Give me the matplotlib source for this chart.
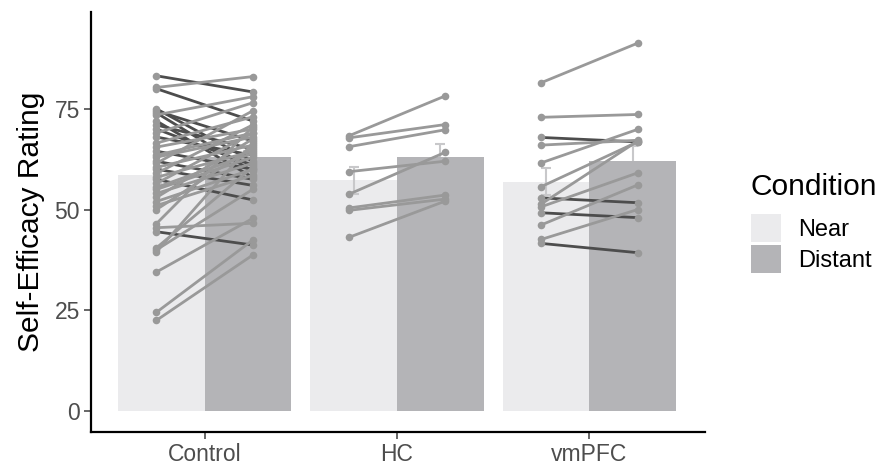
import numpy as np
import matplotlib.pyplot as plt
from matplotlib.patches import Patch

plt.rcParams['font.family'] = ['Liberation Sans', 'DejaVu Sans']

groups = ['Control', 'HC', 'vmPFC']
conditions = ['Near', 'Distant']

control_near = [83.2, 80.3, 80.0, 75.0, 74.5, 74.0, 73.5, 72.0, 71.0, 70.0,
                69.0, 68.0, 66.5, 65.5, 64.5, 63.5, 63.0, 62.0, 61.5, 60.5,
                60.0, 59.0, 58.0, 57.5, 56.5, 55.5, 55.0, 54.0, 53.0, 52.0,
                51.0, 50.0, 46.5, 45.5, 44.5, 40.5, 40.0, 39.5, 34.5, 24.5, 22.5]
control_distant = [79.2, 83.0, 72.0, 62.0, 67.0, 59.5, 78.0, 58.0, 65.0, 61.0,
                   76.5, 63.5, 73.0, 70.0, 60.0, 69.0, 68.0, 57.5, 74.5, 66.0,
                   56.0, 71.0, 64.5, 52.4, 69.0, 64.0, 63.0, 61.5, 67.5, 60.0,
                   58.5, 65.5, 70.5, 46.6, 41.2, 60.5, 55.0, 66.5, 47.8, 42.4, 38.7]

hc_near = [68.3, 67.8, 65.6, 59.4, 53.8, 50.4, 49.8, 43.1]
hc_distant = [78.2, 71.1, 69.8, 62.0, 64.2, 53.6, 52.6, 52.1]

vmpfc_near = [81.5, 72.9, 67.9, 66.0, 61.6, 55.7, 52.9, 51.4, 50.7, 49.2,
              46.2, 42.6, 41.6]
vmpfc_distant = [91.3, 73.6, 66.8, 67.2, 69.9, 66.8, 51.7, 67.0, 59.1, 48.0,
                 56.1, 50.0, 39.3]

data = {
    'Control': (control_near, control_distant),
    'HC': (hc_near, hc_distant),
    'vmPFC': (vmpfc_near, vmpfc_distant),
}

near_col = '#EBEBED'
dist_col = '#B4B4B7'
err_col = '#C8C8CA'
pt_col = '#999999'
up_col = '#999999'
down_col = '#4D4D4D'

fig = plt.figure(figsize=(8.79, 4.67), dpi=100)
ax = fig.add_axes([0.1035, 0.075, 0.6985, 0.899])

for i, g in enumerate(groups):
    x = i + 1
    near = np.array(data[g][0])
    dist = np.array(data[g][1])
    m_n, m_d = near.mean(), dist.mean()
    se_n = near.std(ddof=1) / np.sqrt(len(near))
    se_d = dist.std(ddof=1) / np.sqrt(len(dist))
    ax.bar(x - 0.225, m_n, width=0.45, color=near_col, zorder=1)
    ax.errorbar(x - 0.225, m_n, yerr=se_n, color=err_col, capsize=3.6,
                elinewidth=1.5, capthick=1.5, zorder=2)
    ax.errorbar(x + 0.225, m_d, yerr=se_d, color=err_col, capsize=3.6,
                elinewidth=1.5, capthick=1.5, zorder=2)
    ax.bar(x + 0.225, m_d, width=0.45, color=dist_col, zorder=3)
    for a, b in zip(near, dist):
        c = down_col if b < a else up_col
        ax.plot([x - 0.25, x + 0.25], [a, b], color=c, lw=2.0, zorder=4)
    ax.scatter(np.full(len(near), x - 0.25), near, s=30, color=pt_col,
               zorder=5, linewidths=0)
    ax.scatter(np.full(len(dist), x + 0.25), dist, s=30, color=pt_col,
               zorder=5, linewidths=0)

ax.set_xlim(0.41, 3.6)
ax.set_ylim(-5.2, 99)
ax.set_xticks([1, 2, 3])
ax.set_xticklabels(groups)
ax.set_yticks([0, 25, 50, 75])
ax.tick_params(colors='#4D4D4D', labelsize=16.5, length=5, width=1.2, pad=3)
for side in ['top', 'right']:
    ax.spines[side].set_visible(False)
for side in ['left', 'bottom']:
    ax.spines[side].set_linewidth(1.6)
    ax.spines[side].set_color('black')
ax.set_ylabel('Self-Efficacy Rating', fontsize=21.5, labelpad=7)

handles = [Patch(facecolor=near_col, edgecolor='none'),
           Patch(facecolor=dist_col, edgecolor='none')]
leg = fig.legend(handles, conditions, title='Condition', loc='center left',
                 bbox_to_anchor=(0.854, 0.522), frameon=False, fontsize=17,
                 title_fontsize=21.5, handlelength=1.3, handleheight=1.45,
                 labelspacing=0.14, handletextpad=0.72, borderaxespad=0,
                 borderpad=0)
leg._legend_box.align = 'left'
leg._legend_box.sep = 9

fig.savefig('out.png', dpi=100)
